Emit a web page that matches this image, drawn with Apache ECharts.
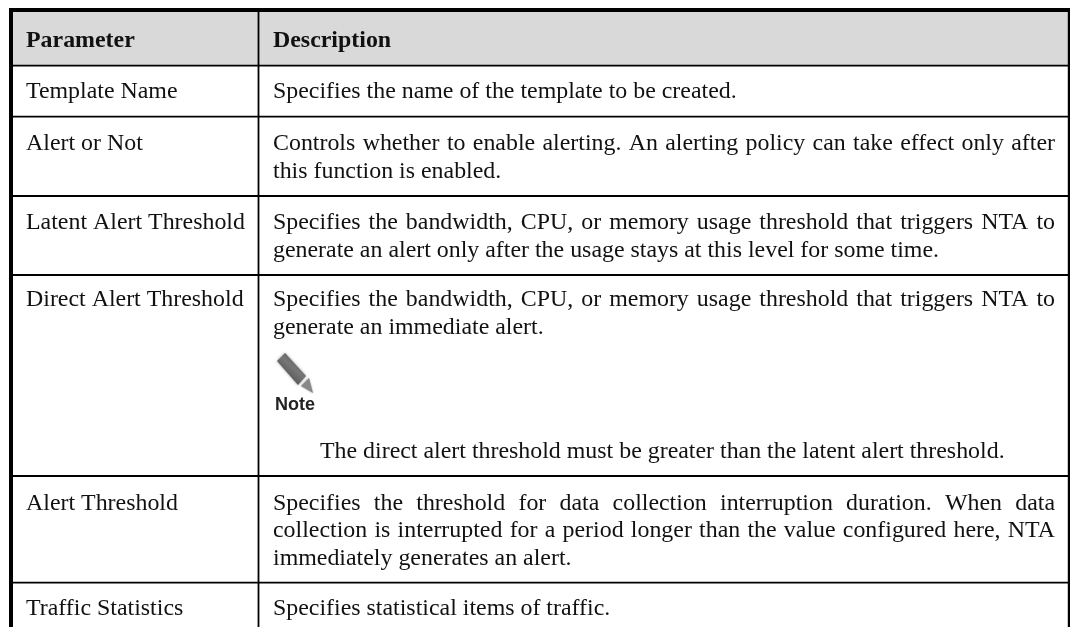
<!DOCTYPE html>
<html><head><meta charset="utf-8">
<style>html,body{margin:0;padding:0;background:#fff}#c{width:1070px;height:627px}</style>
<script src="https://cdn.jsdelivr.net/npm/echarts@6/dist/echarts.min.js"></script>
</head><body><div id="c"></div>
<script>
var columnEdges=[11,258.5,1069];
var rowEdges=[10,65.6,116.6,196,275,476,582.6,627];
var paramNames=["Parameter","Template Name","Alert or Not","Latent Alert Threshold","Direct Alert Threshold","Alert Threshold","Traffic Statistics"];
var paramBaselines=[48,99,151,230,307,511,616];
var descLines=[
["Description",48,273,0,1],
["Specifies the name of the template to be created.",99,273,0,0],
["Controls whether to enable alerting. An alerting policy can take effect only after",151,273,1055,0],
["this function is enabled.",179,273,0,0],
["Specifies the bandwidth, CPU, or memory usage threshold that triggers NTA to",230,273,1055,0],
["generate an alert only after the usage stays at this level for some time.",258,273,0,0],
["Specifies the bandwidth, CPU, or memory usage threshold that triggers NTA to",307,273,1055,0],
["generate an immediate alert.",335,273,0,0],
["The direct alert threshold must be greater than the latent alert threshold.",459,320,0,0],
["Specifies the threshold for data collection interruption duration. When data",511,273,1055,0],
["collection is interrupted for a period longer than the value configured here, NTA",538,273,1055,0],
["immediately generates an alert.",566,273,0,0],
["Specifies statistical items of traffic.",616,273,0,0]
];
var SIZE=23.9;
var FONT=SIZE+'px "Liberation Serif"', BOLD='bold '+SIZE+'px "Liberation Serif"';
var mc=document.createElement('canvas').getContext('2d');
function wordsOf(l){
  mc.font=l[4]?BOLD:FONT;
  var out=[],ws=l[0].split(' ');
  var total=mc.measureText(l[0]).width,gap=mc.measureText(' ').width;
  if(l[3]){gap+= (l[3]-l[2]-total)/(ws.length-1);}
  var x=l[2];
  ws.forEach(function(w){out.push([w,x,l[1],l[4]]);x+=mc.measureText(w).width+gap;});
  return out;
}
var textData=[];
paramNames.forEach(function(n,i){textData.push([n,26,paramBaselines[i],i==0?1:0]);});
descLines.forEach(function(l){wordsOf(l).forEach(function(w){textData.push(w);});});
var chart=echarts.init(document.getElementById('c'),null,{renderer:'canvas'});
var axis=function(max,inv){return {type:'value',min:0,max:max,inverse:inv,show:false};};
var lines=[];
columnEdges.forEach(function(x,i){lines.push([x,rowEdges[0],x,rowEdges[rowEdges.length-1],i==0?4:(i==2?2.4:1.8)]);});
rowEdges.slice(0,-1).forEach(function(y,i){lines.push([i==0?9:columnEdges[0],y,i==0?1070:columnEdges[2],y,i==0?4:1.8]);});
chart.setOption({
 animation:false,
 grid:{left:0,right:0,top:0,bottom:0},
 xAxis:axis(1070,false),yAxis:axis(627,true),
 series:[
 {type:'custom',coordinateSystem:'cartesian2d',silent:true,z:1,
  data:[[columnEdges[0],rowEdges[0],columnEdges[2],rowEdges[1]]],
  renderItem:function(p,api){var a=api.coord([api.value(0),api.value(1)]),b=api.coord([api.value(2),api.value(3)]);
   return {type:'rect',shape:{x:a[0],y:a[1],width:b[0]-a[0],height:b[1]-a[1]},style:{fill:'#d9d9d9'}};}},
 {type:'custom',silent:true,z:2,data:lines,
  renderItem:function(p,api){var a=api.coord([api.value(0),api.value(1)]),b=api.coord([api.value(2),api.value(3)]);
   return {type:'line',shape:{x1:a[0],y1:a[1],x2:b[0],y2:b[1]},style:{stroke:'#000',lineWidth:api.value(4)}};}},
 {type:'custom',silent:true,z:3,data:textData,
  renderItem:function(p,api){var d=textData[p.dataIndex];var a=api.coord([d[1],d[2]-SIZE*0.31]);
   return {type:'text',style:{x:a[0],y:a[1],text:d[0],font:d[3]?BOLD:FONT,fill:'#111',verticalAlign:'middle'}};}}
 ],
 graphic:[
  {type:'group',x:265,y:340,z:5,children:[
    {type:'polygon',shape:{points:[[12,21],[20,13],[41,36],[33,45]]},style:{fill:new echarts.graphic.LinearGradient(0,1,1,0,[{offset:0,color:'#333'},{offset:0.55,color:'#777'},{offset:1,color:'#444'}]),shadowBlur:3,shadowColor:'rgba(0,0,0,0.4)'}},
    {type:'polygon',shape:{points:[[36,46],[44,38],[48,53]]},style:{fill:'#888',shadowBlur:2,shadowColor:'rgba(0,0,0,0.4)'}},
    {type:'text',style:{x:10,y:65,text:'Note',font:'bold 18px "Liberation Sans"',fill:'#222',verticalAlign:'middle',shadowBlur:2,shadowColor:'rgba(0,0,0,0.5)'}}
  ]}
 ]
});
</script></body></html>
